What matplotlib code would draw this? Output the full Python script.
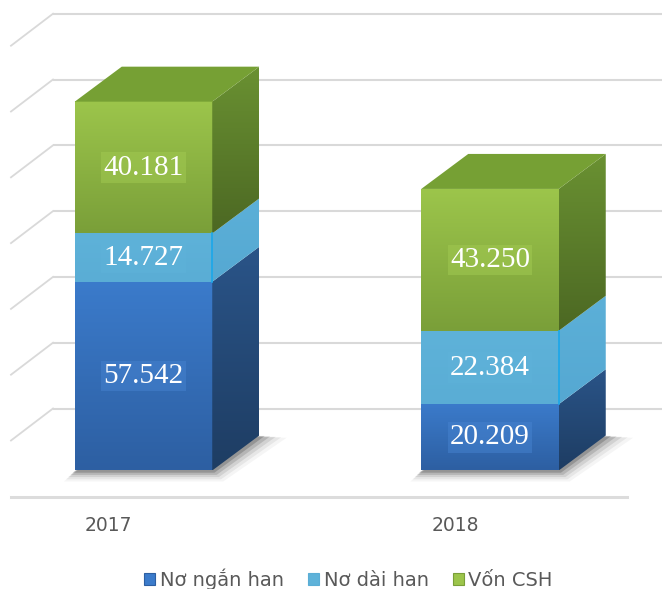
import numpy as np
import matplotlib
matplotlib.use("Agg")
import matplotlib.pyplot as plt
from matplotlib.patches import Polygon, Patch
from matplotlib.colors import LinearSegmentedColormap

# ---- data ----
categories = ["2017", "2018"]
series_names = ["Nơ ngắn han", "Nơ dài han", "Vốn CSH"]
no_ngan_han = [57.542, 20.209]
no_dai_han = [14.727, 22.384]
von_csh = [40.181, 43.250]
labels_ngan = ["57.542", "20.209"]
labels_dai = ["14.727", "22.384"]
labels_von = ["40.181", "43.250"]
grid_ticks = [0, 20, 40, 60, 80, 100, 120]

series = [no_ngan_han, no_dai_han, von_csh]
series_labels = [labels_ngan, labels_dai, labels_von]

# ---- styles ----
front_top = ["#3b7bcb", "#5eb2d9", "#9cc54b"]
front_bot = ["#2d5fa2", "#5aadd5", "#7a9f39"]
side_top = ["#2a5488", "#5cb0d8", "#6a9132"]
side_bot = ["#1e3d63", "#55a8d2", "#4c6823"]
top_col = ["#3f78bd", "#62b5db", "#76a034"]
label_box = ["#4683d0", "#5eb2d9", "#a2ca52"]

W, H, DPI = 662, 589, 100
fig = plt.figure(figsize=(W / DPI, H / DPI), dpi=DPI)
ax = fig.add_axes([0, 0, 1, 1])
ax.set_axis_off()

# pixel <-> data helpers (layout only)
X0PX, XSCALE = 143.5, 346.5
Y0PX, YSCALE = 470.5, 3.28
def cx(px):
    return (px - X0PX) / XSCALE
def vy(py):
    return (Y0PX - py) / YSCALE

XMIN, XMAX = cx(0), cx(W)
YMIN, YMAX = vy(H), vy(0)

bar_w = 137.5 / XSCALE
DX = 47 / XSCALE      # depth offset (x)
DY = 35 / YSCALE      # depth offset (value)

# ---- back wall / floor ----
grid_c = "#d9d9d9"
wall_off = vy(408.5)          # value offset of wall plane
wall_x0 = cx(53)
side_dx = 42 / XSCALE
side_dy = 32 / YSCALE
for t in grid_ticks:
    yv = t * 1.003 + wall_off
    ax.plot([wall_x0, XMAX], [yv, yv], color=grid_c, lw=1.5, zorder=1,
            solid_capstyle="butt")
    ax.plot([wall_x0 - side_dx, wall_x0], [yv - side_dy, yv], color=grid_c,
            lw=1.3, zorder=1)
ax.plot([cx(11), cx(627)], [vy(497), vy(497)], color="#dcdcdc", lw=2.2, zorder=1)

# ---- bars ----
def grad_cmap(c_bot, c_top):
    return LinearSegmentedColormap.from_list("g", [c_bot, c_top])

grad = np.linspace(0, 1, 128).reshape(-1, 1)

for i, cat in enumerate(categories):
    x1 = i - bar_w / 2
    x2 = i + bar_w / 2
    total = sum(s[i] for s in series)
    # soft shadow under the bar
    for k, a in enumerate([0.04, 0.06, 0.09, 0.13, 0.18]):
        e = (5 - k) * 2.2
        ex = e / XSCALE
        ey = e / YSCALE
        shadow = Polygon([(x1 - ex, -ey), (x2 + ex, -ey),
                          (x2 + DX + ex * 2.5, DY - ey * 0.2),
                          (x1 + DX, DY)],
                         closed=True, facecolor="#000000", alpha=a,
                         edgecolor="none", zorder=2)
        ax.add_patch(shadow)
    bottom = 0.0
    for j, s in enumerate(series):
        top = bottom + s[i]
        # front face gradient
        ax.imshow(grad, extent=[x1, x2, bottom, top], origin="lower",
                  cmap=grad_cmap(front_bot[j], front_top[j]), aspect="auto",
                  interpolation="bilinear", zorder=4)
        # side face
        side = Polygon([(x2, bottom), (x2 + DX, bottom + DY),
                        (x2 + DX, top + DY), (x2, top)], closed=True,
                       facecolor="none", edgecolor="none", zorder=4)
        ax.add_patch(side)
        im = ax.imshow(grad, extent=[x2, x2 + DX, bottom, top + DY],
                       origin="lower", cmap=grad_cmap(side_bot[j], side_top[j]),
                       aspect="auto", interpolation="bilinear", zorder=4)
        im.set_clip_path(side)
        if j == 1:
            ax.plot([x2, x2], [bottom, top], color="#1aa7ea", lw=1.2, zorder=5)
        # label
        ax.text(i, (bottom + top) / 2, series_labels[j][i], ha="center",
                va="center", color="white", fontsize=21,
                family=["Liberation Serif", "DejaVu Serif"], zorder=6,
                bbox=dict(boxstyle="square,pad=0.08", facecolor=label_box[j],
                          edgecolor="none", alpha=0.5))
        bottom = top
    # top face of the stack
    topf = Polygon([(x1, total), (x2, total), (x2 + DX, total + DY),
                    (x1 + DX, total + DY)], closed=True,
                   facecolor=top_col[2], edgecolor="none", zorder=4)
    ax.add_patch(topf)
    # category label
    ax.text(i - 35 / XSCALE, vy(525.5), cat, ha="center", va="center",
            color="#595959", fontsize=13.5, family="DejaVu Sans", zorder=6)

ax.set_xlim(XMIN, XMAX)
ax.set_ylim(YMIN, YMAX)

# ---- legend ----
handles = [Patch(facecolor=front_top[j], edgecolor=front_bot[j], lw=0.8)
           for j in range(3)]
fig.legend(handles, series_names, loc="center", ncol=3,
           bbox_to_anchor=(348.5 / W, 1 - 579 / H), frameon=False,
           labelcolor="#595959", handlelength=0.55,
           handleheight=0.55, handletextpad=0.25, columnspacing=1.25,
           prop={"family": "DejaVu Sans", "size": 14})

fig.savefig("out.png", dpi=DPI)
